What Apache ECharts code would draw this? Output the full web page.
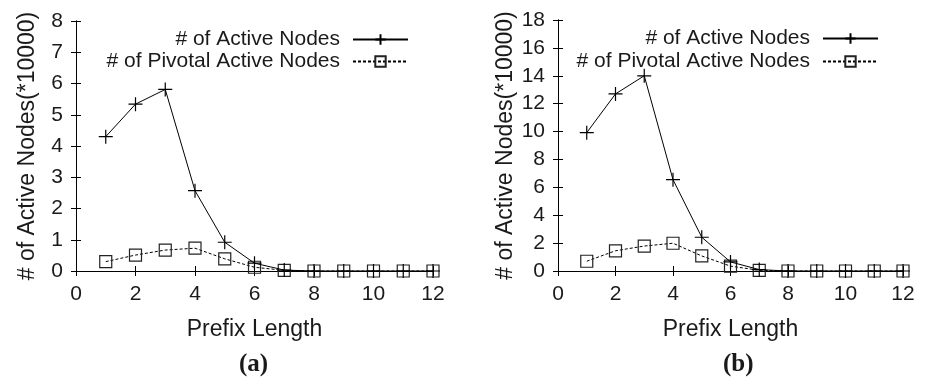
<!DOCTYPE html>
<html><head><meta charset="utf-8">
<script src="https://cdn.jsdelivr.net/npm/echarts@6/dist/echarts.min.js"></script>
<style>html,body{margin:0;padding:0;background:#fff}#c{width:930px;height:381px}</style>
</head><body><div id="c"></div>
<script>
const prefixLen = [1,2,3,4,5,6,7,8,9,10,11,12];
const activeA  = [4.3,5.34,5.81,2.57,0.92,0.25,0.03,0,0,0,0,0];
const pivotalA = [0.3,0.51,0.67,0.73,0.39,0.12,0.02,0,0,0,0,0];
const activeB  = [9.92,12.7,14.0,6.55,2.42,0.65,0.1,0,0,0,0,0];
const pivotalB = [0.7,1.45,1.79,1.99,1.08,0.35,0.05,0,0,0,0,0];
const nameActive = '# of Active Nodes';
const namePivotal = '# of Pivotal Active Nodes';
const yTitle = '# of Active Nodes(*10000)';
const xTitle = 'Prefix Length';
const panelLabels = ['(a)','(b)'];
const yMax = [8,18], yInt = [1,2];

const FONT = 'Liberation Sans';
const TXT = '#1a1a1a';
const grids = [
  {left:76, top:21, width:357, height:250},
  {left:558, top:20, width:345, height:251}
];
const plusSym = 'path://M0,5L10,5M5,0L5,10';
const xAxes = [], yAxes = [], series = [];
grids.forEach((g,i)=>{
  const axLine = {lineStyle:{color:'#000',width:1}};
  const tick = {inside:true,length:5,lineStyle:{color:'#000'}};
  xAxes.push({gridIndex:i,type:'value',min:0,max:12,interval:2,position:'bottom',
    axisLine:axLine,axisTick:tick,splitLine:{show:false},
    axisLabel:{fontFamily:FONT,fontSize:21,color:TXT,margin:13},
    name:xTitle,nameLocation:'middle',nameGap:47,nameTextStyle:{fontFamily:FONT,fontSize:23,color:TXT}});
  xAxes.push({gridIndex:i,type:'value',min:0,max:12,interval:2,position:'top',
    axisLine:axLine,axisTick:tick,splitLine:{show:false},axisLabel:{show:false}});
  yAxes.push({gridIndex:i,type:'value',min:0,max:yMax[i],interval:yInt[i],position:'left',
    axisLine:{show:true,...axLine},axisTick:{show:true,...tick},splitLine:{show:false},
    axisLabel:{fontFamily:FONT,fontSize:21,color:TXT,margin:13},
    name:yTitle,nameLocation:'middle',nameGap:i===0?37:41,nameRotate:90,nameTextStyle:{fontFamily:FONT,fontSize:23,color:TXT}});
  yAxes.push({gridIndex:i,type:'value',min:0,max:yMax[i],interval:yInt[i],position:'right',
    axisLine:{show:true,...axLine},axisTick:{show:true,...tick},splitLine:{show:false},axisLabel:{show:false}});
});
const dataSets = [[activeA,pivotalA],[activeB,pivotalB]];
dataSets.forEach((d,i)=>{
  series.push({name:nameActive,type:'line',xAxisIndex:2*i,yAxisIndex:2*i,
    data:prefixLen.map((x,k)=>[x,d[0][k]]),
    symbol:plusSym,symbolSize:14,showAllSymbol:true,
    lineStyle:{color:'#000',width:1,type:'solid'},
    itemStyle:{color:'rgba(0,0,0,0)',borderColor:'#000',borderWidth:1.2},
    emphasis:{disabled:true},animation:false,z:3});
  series.push({name:namePivotal,type:'line',xAxisIndex:2*i,yAxisIndex:2*i,
    data:prefixLen.map((x,k)=>[x,d[1][k]]),
    symbol:'rect',symbolSize:12,showAllSymbol:true,
    lineStyle:{color:'#000',width:1,type:[3,2]},
    itemStyle:{color:'rgba(0,0,0,0)',borderColor:'#222',borderWidth:1.2},
    emphasis:{disabled:true},animation:false,z:2});
});
const legendRight = [516, 46];
const legends = [];
legendRight.forEach((r,i)=>{
  [nameActive,namePivotal].forEach((n,j)=>{
    legends.push({data:[n],right:r,top:j===0?(i===0?24:23):46,
      align:'right',itemWidth:55,itemHeight:13,selectedMode:false,
      textStyle:{fontFamily:FONT,fontSize:21,color:TXT,padding:[0,8,0,0]}});
  });
});
const chart = echarts.init(document.getElementById('c'),null,{renderer:'canvas'});
chart.setOption({
  animation:false,
  grid:grids,xAxis:xAxes,yAxis:yAxes,series:series,legend:legends,
  graphic:[
    {type:'text',left:254-15,top:352,style:{text:panelLabels[0],font:'bold 25px "Liberation Serif"',fill:TXT}},
    {type:'text',left:738-15,top:352,style:{text:panelLabels[1],font:'bold 25px "Liberation Serif"',fill:TXT}}
  ]
});
</script></body></html>
